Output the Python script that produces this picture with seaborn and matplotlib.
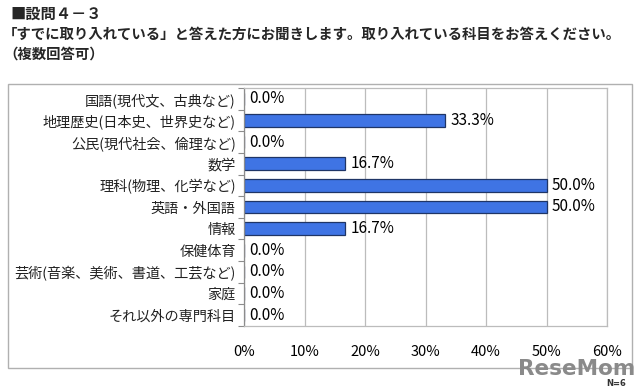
import matplotlib
matplotlib.use("Agg")
import matplotlib.pyplot as plt
import seaborn as sns
import pandas as pd
import numpy as np
from matplotlib.patches import Rectangle
from matplotlib.ticker import FixedLocator, PercentFormatter

categories = ["国語(現代文、古典など)", "地理歴史(日本史、世界史など)", "公民(現代社会、倫理など)",
              "数学", "理科(物理、化学など)", "英語・外国語", "情報", "保健体育",
              "芸術(音楽、美術、書道、工芸など)", "家庭", "それ以外の専門科目"]
values = [0.0, 33.3, 0.0, 16.7, 50.0, 50.0, 16.7, 0.0, 0.0, 0.0, 0.0]
xticks = [0, 10, 20, 30, 40, 50, 60]

sns.set_theme(style="white")
plt.rcParams['font.family'] = ['Noto Sans CJK JP', 'DejaVu Sans']

df = pd.DataFrame({"category": categories, "value": values})

fig = plt.figure(figsize=(6.4, 3.89), dpi=100)
fig.patch.set_facecolor("white")

# outer frame
fig.add_artist(Rectangle((8/640, 1-368/389), (632-8)/640, (368-84)/389, transform=fig.transFigure,
                         fill=False, edgecolor="#b0b0b0", linewidth=1.0))

ax = fig.add_axes([244/640, 1-326/389, (607-244)/640, (326-88)/389])
sns.barplot(data=df, x="value", y="category", orient="h", color="#3f74e4", saturation=1,
            width=0.58, edgecolor="#1f3566", linewidth=0.9, ax=ax)

ax.set_xlim(0, 60)
ax.set_xticks(xticks)
ax.xaxis.set_major_formatter(PercentFormatter(decimals=0))
ax.grid(axis="x", color="#bcbcbc", linewidth=0.9)
ax.set_axisbelow(True)
ax.set_xlabel("")
ax.set_ylabel("")
for s in ["top", "right", "bottom"]:
    ax.spines[s].set_color("#bcbcbc")
    ax.spines[s].set_linewidth(0.9)
ax.spines["left"].set_color("#8c8c8c")
ax.spines["left"].set_linewidth(0.9)
ax.tick_params(axis="x", length=0, labelsize=10.5, pad=14, colors="#000000")
ax.tick_params(axis="y", length=0, labelsize=10.2, pad=6, colors="#222222")
ax.yaxis.set_minor_locator(FixedLocator(np.arange(-0.5, len(categories), 1.0)))
ax.tick_params(axis="y", which="minor", left=True, length=4, color="#8c8c8c", width=0.8)

for i, v in enumerate(values):
    ax.annotate(f"{v:.1f}%", xy=(v, i), xytext=(4, 0), textcoords="offset points",
                va="center", ha="left", fontsize=11, color="#000000")

fig.text(10/640, 1-14/389, "■設問４－３", fontsize=11, fontweight="bold", va="center", ha="left")
fig.text(3/640, 1-35/389, "「すでに取り入れている」と答えた方にお聞きします。取り入れている科目をお答えください。",
         fontsize=10.4, fontweight="bold", va="center", ha="left")
fig.text(3/640, 1-55/389, "（複数回答可）", fontsize=10.4, fontweight="bold", va="center", ha="left")

fig.text(577/640, 1-369/389, "ReseMom", fontsize=15.5, fontweight="bold", color="#8a8a8a",
         va="center", ha="center", family=["DejaVu Sans"])
fig.text(626/640, 1-383/389, "N=6", fontsize=6, fontweight="bold", color="#333333",
         va="center", ha="right", family=["DejaVu Sans"])

fig.savefig("out.png", dpi=100)
